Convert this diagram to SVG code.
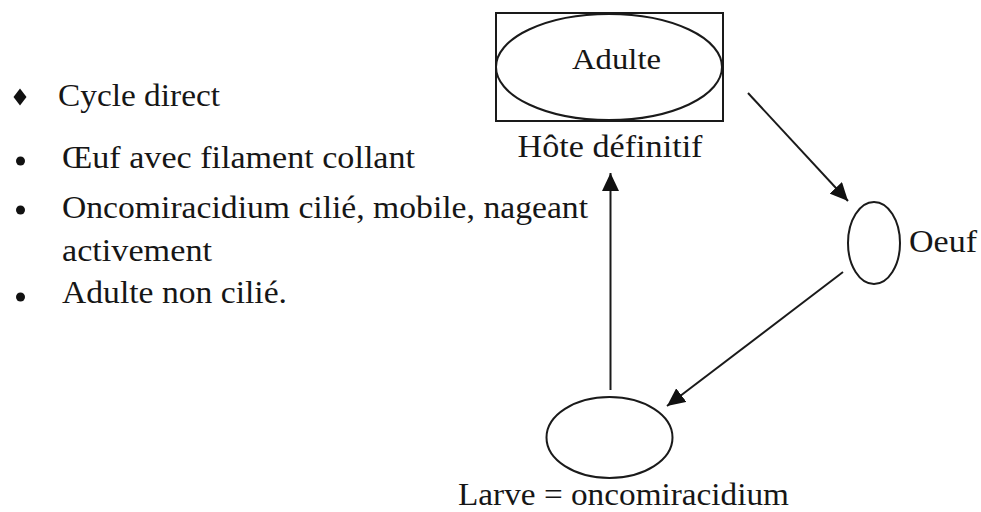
<svg xmlns="http://www.w3.org/2000/svg" width="981" height="512" viewBox="0 0 981 512">
  <style>
    .shape { fill: none; stroke: #1a1a1a; stroke-width: 2; }
    .conn { fill: none; stroke: #1a1a1a; stroke-width: 2; }
  </style>
  <defs>
    <marker id="arrow" markerUnits="userSpaceOnUse" markerWidth="19" markerHeight="17" viewBox="0 0 19 17" refX="18" refY="8.5" orient="auto">
      <path d="M0,0 L18,8.5 L0,17 Z" fill="#111"/>
    </marker>
  </defs>
  <rect width="981" height="512" fill="#ffffff"/>

  <g font-family="'Liberation Serif', 'DejaVu Serif', serif" fill="#161616">
    <!-- bullet list -->
    <g id="list">
      <path d="M20,88.5 L26.5,97 L20,105.5 L13.5,97 Z" fill="#111"/>
      <text x="58" y="106" font-size="31" textLength="162" lengthAdjust="spacingAndGlyphs">Cycle direct</text>
      <circle cx="20.5" cy="161" r="4.5" fill="#111"/>
      <text x="62" y="168" font-size="31" textLength="353" lengthAdjust="spacingAndGlyphs">Œuf avec filament collant</text>
      <circle cx="20.5" cy="210" r="4.5" fill="#111"/>
      <text x="62" y="218" font-size="31" textLength="526" lengthAdjust="spacingAndGlyphs">Oncomiracidium cilié, mobile, nageant</text>
      <text x="62" y="261" font-size="31" textLength="150" lengthAdjust="spacingAndGlyphs">activement</text>
      <circle cx="20.5" cy="297" r="4.5" fill="#111"/>
      <text x="62" y="303" font-size="31" textLength="225" lengthAdjust="spacingAndGlyphs">Adulte non cilié.</text>
    </g>

    <!-- adult in definitive host -->
    <g id="adulte">
      <rect class="shape" x="496" y="13" width="227" height="108"/>
      <ellipse class="shape" cx="609" cy="67" rx="113" ry="53"/>
      <text x="616.5" y="69" font-size="30" text-anchor="middle" textLength="89" lengthAdjust="spacingAndGlyphs">Adulte</text>
      <text x="610" y="157" font-size="32" text-anchor="middle" textLength="185" lengthAdjust="spacingAndGlyphs">Hôte définitif</text>
    </g>

    <!-- egg -->
    <g id="oeuf">
      <ellipse class="shape" cx="874" cy="243" rx="26" ry="41"/>
      <text x="909" y="252" font-size="32" textLength="68" lengthAdjust="spacingAndGlyphs">Oeuf</text>
    </g>

    <!-- larva -->
    <g id="larve">
      <ellipse class="shape" cx="609.5" cy="437.5" rx="63" ry="40.5"/>
      <text x="458" y="505" font-size="31" textLength="331" lengthAdjust="spacingAndGlyphs">Larve = oncomiracidium</text>
    </g>
  </g>

  <!-- life-cycle arrows -->
  <g id="connectors">
    <line class="conn" x1="748" y1="93" x2="848" y2="201" marker-end="url(#arrow)"/>
    <line class="conn" x1="843" y1="272" x2="667" y2="406" marker-end="url(#arrow)"/>
    <line class="conn" x1="610.5" y1="390" x2="610.5" y2="173" marker-end="url(#arrow)"/>
  </g>
</svg>
